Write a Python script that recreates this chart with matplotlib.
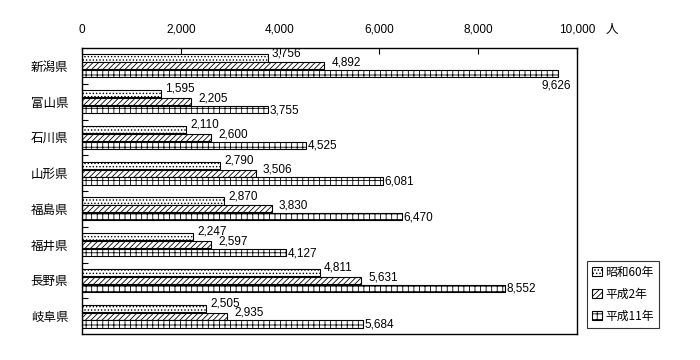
import numpy as np
import matplotlib
matplotlib.use('Agg')
import matplotlib.pyplot as plt
from matplotlib.ticker import FuncFormatter, MultipleLocator

plt.rcParams['font.family'] = ['Noto Sans CJK JP', 'DejaVu Sans']
plt.rcParams['hatch.linewidth'] = 0.6

prefectures = ['新潟県', '富山県', '石川県', '山形県', '福島県', '福井県', '長野県', '岐阜県']
series_names = ['昭和60年', '平成2年', '平成11年']
showa60 = [3756, 1595, 2110, 2790, 2870, 2247, 4811, 2505]
heisei2 = [4892, 2205, 2600, 3506, 3830, 2597, 5631, 2935]
heisei11 = [9626, 3755, 4525, 6081, 6470, 4127, 8552, 5684]

series = [showa60, heisei2, heisei11]
hatches = ['.....', '//////', '+++']

fig = plt.figure(figsize=(7.0, 3.6), dpi=100)
ax = fig.add_axes([82 / 700, 1 - 334 / 360, 495 / 700, 286 / 360])

bar_h = 0.2
gap = 0.02
y = np.arange(len(prefectures))
offsets = [-(bar_h + gap), 0.0, bar_h + gap]
# value label nudges: dx in data units, dy in category units (positive = down)
label_dx = [80, 150, 30]
label_dy = [-0.14, -0.09, 0.02]
num_font = ['Liberation Sans', 'DejaVu Sans']

for vals, name, hatch, off, dx, dy in zip(series, series_names, hatches,
                                           offsets, label_dx, label_dy):
    ax.barh(y + off, vals, height=bar_h, color='white', edgecolor='black',
            hatch=hatch, linewidth=0.8, label=name)
    for yi, v in zip(y, vals):
        if v > 9000:
            ax.text(v + 250, yi + off + 0.32, f'{v:,}', ha='right', va='center',
                    fontsize=8.5, family=num_font)
        else:
            ax.text(v + dx, yi + off + dy, f'{v:,}', ha='left', va='center',
                    fontsize=8.5, family=num_font)

ax.set_xlim(0, 10000)
ax.set_ylim(len(prefectures) - 0.5, -0.5)

ax.xaxis.set_major_locator(MultipleLocator(2000))
ax.xaxis.set_major_formatter(FuncFormatter(lambda v, p: f'{int(v):,}'))
ax.xaxis.tick_top()
ax.tick_params(axis='x', which='major', direction='in', length=4, width=0.8,
               pad=9, labelsize=8.5)
for lbl in ax.get_xticklabels():
    lbl.set_family(num_font)
ax.set_yticks(y)
ax.set_yticklabels(prefectures, fontsize=9)
ax.set_yticks(np.arange(len(prefectures) - 1) + 0.5, minor=True)
ax.tick_params(axis='y', which='major', length=0, pad=10)
ax.tick_params(axis='y', which='minor', direction='in', length=4, width=0.8)

for s in ax.spines.values():
    s.set_linewidth(1.0)

fig.text(612 / 700, 1 - 30 / 360, '人', fontsize=9, ha='center', va='center')

leg = ax.legend(loc='lower left', bbox_to_anchor=(587 / 700, 1 - 328 / 360),
                bbox_transform=fig.transFigure, fontsize=8.5, frameon=True,
                fancybox=False, edgecolor='black', handlelength=0.8,
                handleheight=0.8, handletextpad=0.3, borderpad=0.45,
                labelspacing=0.75, borderaxespad=0)
leg.get_frame().set_linewidth(0.8)

fig.savefig('out.png', dpi=100)
